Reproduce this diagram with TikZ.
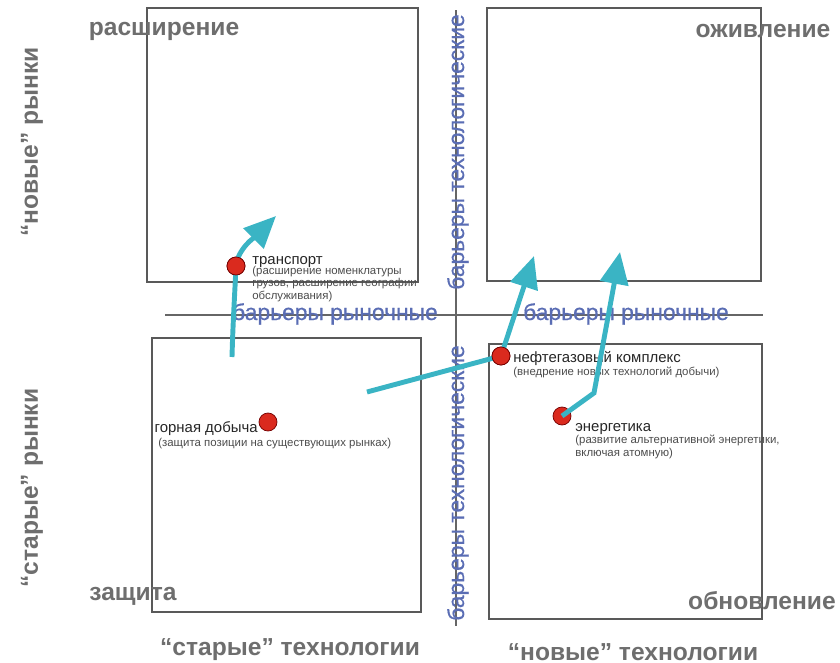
\documentclass[tikz,border=0pt]{standalone}
\usepackage{fontspec}
\setmainfont{Liberation Sans}
\newfontfamily\barrierfont{Liberation Sans}[FakeBold=0.6]
\usepackage{xcolor}
\usetikzlibrary{arrows.meta}
\definecolor{quadgray}{HTML}{6E6E6E}
\definecolor{barblue}{HTML}{5A6DB4}
\definecolor{pathteal}{HTML}{3AB4C4}
\definecolor{dotred}{HTML}{DA2A1E}

\begin{document}
\begin{tikzpicture}[x=0.02cm, y=-0.02cm,
    quad/.style={draw=black!65, line width=0.6pt},
    axis/.style={draw=black!60, line width=0.6pt},
    corner/.style={text=quadgray, font=\fontsize{14}{16}\selectfont\bfseries, inner sep=0pt},
    barrier/.style={text=barblue, font=\barrierfont\fontsize{13}{15}\selectfont, inner sep=0pt},
    dot/.style={circle, draw=red!45!black, fill=dotred, minimum size=0.36cm, inner sep=0pt},
    sector/.style={anchor=base west, font=\fontsize{8.5}{10}\selectfont, text=black!85, inner sep=0pt},
    note/.style={anchor=north west, font=\fontsize{6.5}{7}\selectfont, text=black!70, align=left, inner sep=0pt},
    move/.style={draw=pathteal, line width=2.8pt, -{Triangle[length=0.64cm, width=0.56cm]}}
]
    \useasboundingbox (0,0) rectangle (840,663);

    % quadrants
    \draw[quad] (147,8) rectangle (418,282);
    \draw[quad] (487,8) rectangle (761,281);
    \draw[quad] (152,338) rectangle (421,612);
    \draw[quad] (489,344) rectangle (762,619);

    % barrier axes
    \draw[axis] (165,315) -- (763,315);
    \draw[axis] (456,10) -- (456,626);

    % quadrant names
    \node[corner] (expand) at (164,31) {расширение};
    \node[corner] (revive) at (763,31) {оживление};
    \node[corner] (protect) at (133,596) {защита};
    \node[corner] (renew) at (762,601) {обновление};

    % axis names
    \node[corner, rotate=90] (newmkt) at (32,142) {“новые” рынки};
    \node[corner, rotate=90] (oldmkt) at (32,488) {“старые” рынки};
    \node[corner] (oldtech) at (290,650) {“старые” технологии};
    \node[corner] (newtech) at (633,652) {“новые” технологии};

    % barriers
    \node[barrier, rotate=90] (techtop) at (458,152) {барьеры технологические};
    \node[barrier, rotate=90] (techbot) at (458,483) {барьеры технологические};
    \node[barrier] (mktleft) at (335,314) {барьеры рыночные};
    \node[barrier] (mktright) at (626,314) {барьеры рыночные};

    % sectors
    \node[dot] (transport) at (236,266) {};
    \node[dot] (oilgas) at (501,356) {};
    \node[dot] (mining) at (268,422) {};
    \node[dot] (energy) at (562,416) {};

    \node[sector] (transportname) at (252,264) {транспорт};
    \node[note] (transportnote) at (252,266) {(расширение номенклатуры\\грузов, расширение географии\\обслуживания)};
    \node[sector] (oilgasname) at (513,362) {нефтегазовый комплекс};
    \node[note] (oilgasnote) at (513,367) {(внедрение новых технологий добычи)};
    \node[sector, anchor=base east] (miningname) at (258,432) {горная добыча};
    \node[note] (miningnote) at (158,438) {(защита позиции на существующих рынках)};
    \node[sector] (energyname) at (575,431) {энергетика};
    \node[note] (energynote) at (575,435) {(развитие альтернативной энергетики,\\включая атомную)};

    % moves
    \coordinate (tr0) at (232,357);
    \coordinate (tr1) at (276,216);
    \coordinate (og0) at (367,392);
    \coordinate (og1) at (534,256);
    \coordinate (en1) at (594,393);
    \coordinate (en2) at (620,252);

    \draw[move] (tr0) .. controls (233,320) and (235,290) .. (transport.center) .. controls (238,248) and (256,236) .. (tr1);
    \draw[move] (og0) -- (oilgas.center) -- (og1);
    \node[dot] at (transport) {};
    \node[dot] at (oilgas) {};
    \draw[move] (energy.center) -- (en1) -- (en2);
\end{tikzpicture}
\end{document}
